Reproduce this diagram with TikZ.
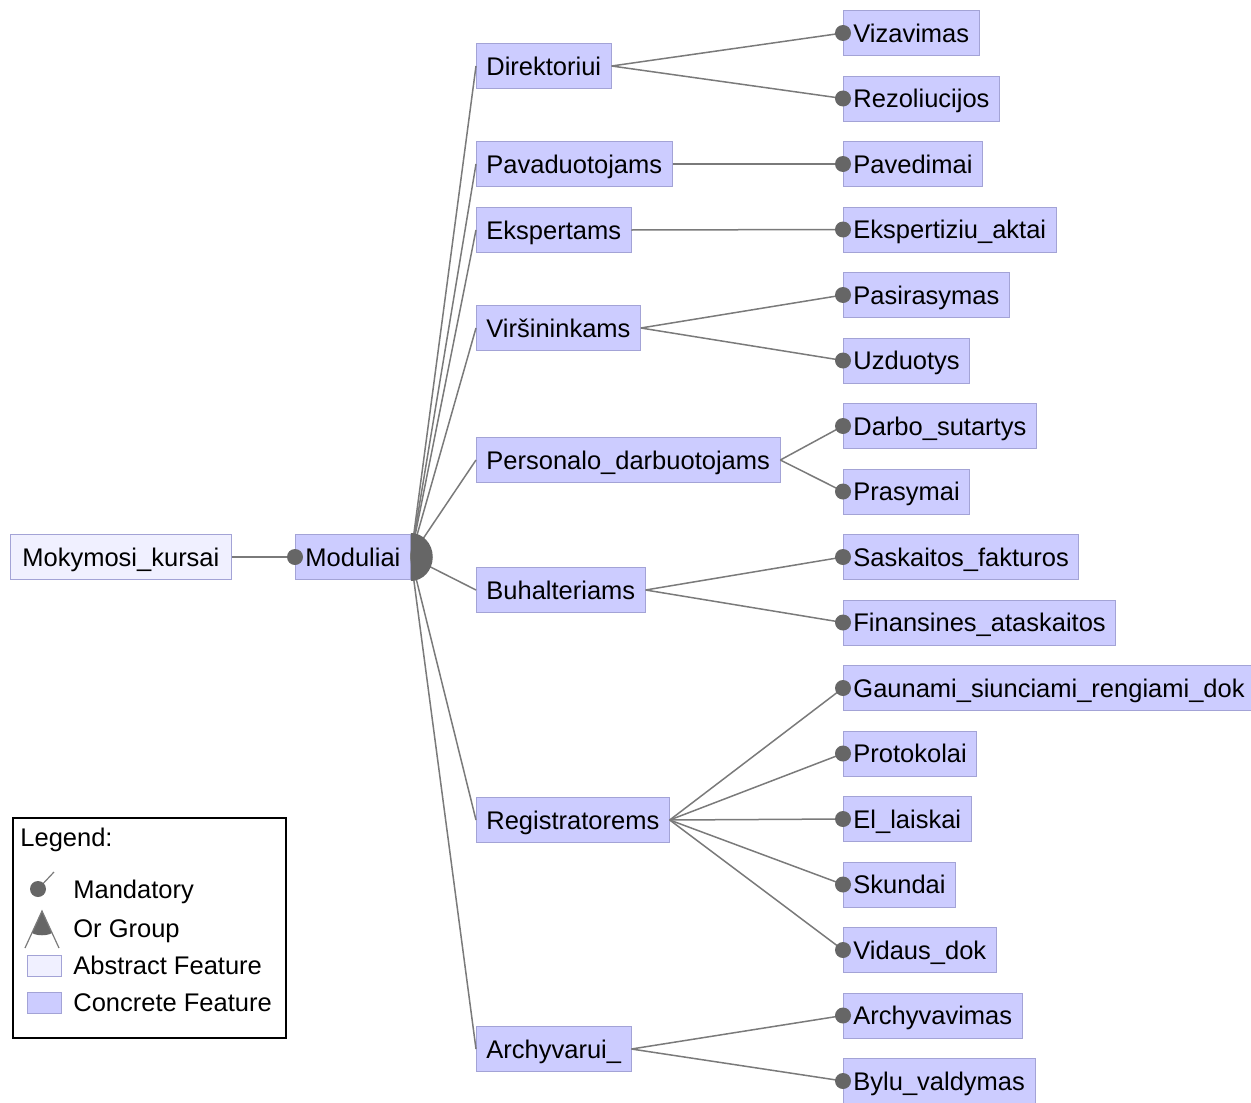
\documentclass[tikz,border=0pt]{standalone}
\usepackage{fontspec}
\setmainfont{Liberation Sans}
\definecolor{concrete}{HTML}{CCCCFF}
\definecolor{abstract}{HTML}{F0F0FF}
\definecolor{featline}{HTML}{A3A3D6}
\definecolor{edgegray}{HTML}{7A7A7A}
\definecolor{dotgray}{HTML}{666666}

\begin{document}
\begin{tikzpicture}[x=0.5pt,y=-0.5pt,
  feat/.style={draw=featline, fill=concrete, anchor=west, inner xsep=5pt, inner ysep=0pt,
    text height=9.1pt, text depth=0pt, minimum height=22.5pt,
    font=\fontsize{12.75}{15}\selectfont},
  absfeat/.style={feat, fill=abstract},
  link/.style={draw=edgegray, line width=0.75pt},
  legtext/.style={anchor=west, inner sep=0pt, text height=9.1pt, text depth=0pt,
    font=\fontsize{12.75}{15}\selectfont}]
\useasboundingbox (0,0) rectangle (1251,1102);

% root and group
\node[absfeat, inner xsep=6pt] (mokymosi) at (10,557) {Mokymosi\_kursai};
\node[feat] (moduliai) at (295,557) {Moduliai};

% second level
\node[feat] (direktoriui) at (476,66) {Direktoriui};
\node[feat] (pavaduotojams) at (476,164) {Pavaduotojams};
\node[feat] (ekspertams) at (476,230) {Ekspertams};
\node[feat] (virsininkams) at (476,328) {Viršininkams};
\node[feat] (personalo) at (476,460) {Personalo\_darbuotojams};
\node[feat] (buhalteriams) at (476,590) {Buhalteriams};
\node[feat] (registratorems) at (476,820) {Registratorems};
\node[feat] (archyvarui) at (476,1049) {Archyvarui\_};

% leaves
\foreach \name/\txt [count=\i from 0] in {vizavimas/Vizavimas, rezoliucijos/Rezoliucijos,
    pavedimai/Pavedimai, ekspertiziu/Ekspertiziu\_aktai, pasirasymas/Pasirasymas,
    uzduotys/Uzduotys, darbo/Darbo\_sutartys, prasymai/Prasymai,
    saskaitos/Saskaitos\_fakturos, finansines/Finansines\_ataskaitos,
    gaunami/Gaunami\_siunciami\_rengiami\_dok, protokolai/Protokolai,
    laiskai/El\_laiskai, skundai/Skundai, vidaus/Vidaus\_dok,
    archyvavimas/Archyvavimas, bylu/Bylu\_valdymas}
  \node[feat] (\name) at (843,33+65.5*\i) {\txt};

% connectors
\draw[link] (mokymosi.east) -- (moduliai.west);
\fill[dotgray] (moduliai.west) circle (4pt);
\foreach \c in {direktoriui,pavaduotojams,ekspertams,virsininkams,personalo,
    buhalteriams,registratorems,archyvarui}
  \draw[link] (moduliai.east) -- (\c.west);
\fill[dotgray] ([yshift=12pt]moduliai.east) arc[start angle=90, end angle=-90,
  x radius=11pt, y radius=12pt] -- cycle;

\foreach \p/\c in {direktoriui/vizavimas, direktoriui/rezoliucijos,
    pavaduotojams/pavedimai, ekspertams/ekspertiziu,
    virsininkams/pasirasymas, virsininkams/uzduotys,
    personalo/darbo, personalo/prasymai,
    buhalteriams/saskaitos, buhalteriams/finansines,
    registratorems/gaunami, registratorems/protokolai, registratorems/laiskai,
    registratorems/skundai, registratorems/vidaus,
    archyvarui/archyvavimas, archyvarui/bylu}
{
  \draw[link] (\p.east) -- (\c.west);
  \fill[dotgray] (\c.west) circle (4pt);
}

% legend
\draw[line width=0.8pt] (13,818) rectangle (286,1038);
\node[legtext] (legend) at (20,837) {Legend:};
\draw[edgegray, line width=0.6pt] (38,889) -- (54,872);
\fill[dotgray] (38,889) circle (4pt);
\node[legtext] (mandatory) at (73,889) {Mandatory};
\fill[dotgray] (42,911) -- (32,933) .. controls (37,936) and (47,936) .. (52,933) -- cycle;
\draw[edgegray, line width=0.6pt] (25,948) -- (42,911) -- (59,948);
\node[legtext] (orgroup) at (73,928) {Or Group};
\draw[featline, fill=abstract] (27,955) rectangle (61,976);
\node[legtext] (abstractf) at (73,965) {Abstract Feature};
\draw[featline, fill=concrete] (27,992) rectangle (61,1013);
\node[legtext] (concretef) at (73,1002) {Concrete Feature};
\end{tikzpicture}
\end{document}
